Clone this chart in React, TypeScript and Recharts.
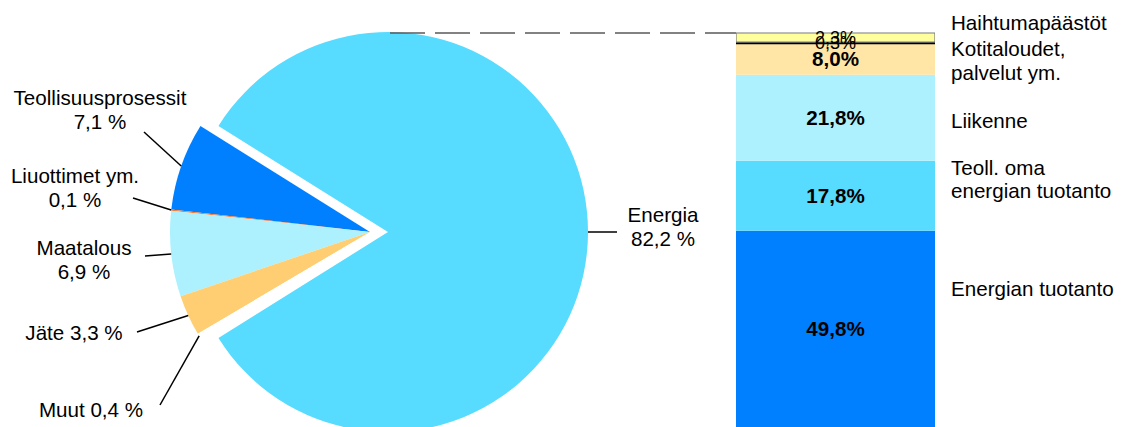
import React from 'react';
import { PieChart, Pie, Cell, BarChart, Bar, XAxis, YAxis, LabelList } from 'recharts';

// ---- Data ----
const sectorNames = ['Teollisuusprosessit', 'Liuottimet ym.', 'Maatalous', 'Jäte', 'Muut', 'Energia'];
const sectorValues = [7.1, 0.1, 6.9, 3.3, 0.4, 82.2];
const sectorColors = ['#0080FF', '#FF7A2A', '#ADF1FF', '#FFCE73', '#FFFFFF', '#57DBFF'];

const energyNames = ['Energian tuotanto', 'Teoll. oma energian tuotanto', 'Liikenne', 'Kotitaloudet, palvelut ym.', 'Muut energia', 'Haihtumapäästöt'];
const energyValues = [49.8, 17.8, 21.8, 8.0, 0.3, 2.3];
const energyColors = ['#0080FF', '#57DBFF', '#ADF1FF', '#FFE6A6', '#000000', '#FFFF9E'];
const energyLabelLines = [
  ['Energian tuotanto'],
  ['Teoll. oma', 'energian tuotanto'],
  ['Liikenne'],
  ['Kotitaloudet,', 'palvelut ym.'],
  [],
  ['Haihtumapäästöt'],
];

// ---- Layout ----
const W = 1125;
const H = 427;
const FONT = '"Liberation Sans", Arial, sans-serif';
const FS = 20.6;
const PIE_CX = 388;
const PIE_CY = 232;
const PIE_R = 200;
const EXPLODE = 18;
const smallTotal = sectorValues.slice(0, 5).reduce((a, b) => a + b, 0);
const START = 180 - (smallTotal / 100) * 180;
const END = START + 360;

const BAR_LEFT = 736;
const BAR_TOP = 33;
const BAR_W = 199;
const BAR_H = 394;
const BAR_PAD = 20;

const pieData = sectorNames.map((name, i) => ({ name, value: sectorValues[i] }));
const barRow: Record<string, any> = { name: 'Energia' };
energyNames.forEach((n, i) => { barRow['s' + i] = energyValues[i]; });
const barData = [barRow];

const fmt = (v: number) => v.toFixed(1).replace('.', ',');

// label placement (text anchors, leader line start)
const pieLabelLayout: Record<string, { x: number; ys: number[]; sx: number; sy: number; oneLine?: boolean }> = {
  'Teollisuusprosessit': { x: 100, ys: [105, 129], sx: 144, sy: 132 },
  'Liuottimet ym.': { x: 75, ys: [183, 207], sx: 133, sy: 198 },
  'Maatalous': { x: 84, ys: [255, 279], sx: 145, sy: 256 },
  'Jäte': { x: 74, ys: [340], sx: 137, sy: 332, oneLine: true },
  'Muut': { x: 91, ys: [417], sx: 160, sy: 405, oneLine: true },
  'Energia': { x: 663, ys: [222, 246], sx: 617, sy: 232 },
};
const energyLabelY = [[296], [175, 198], [128], [56, 80], [], [30]];

const RAD = Math.PI / 180;

const makePieLabel = (show: (name: string) => boolean) => (props: any) => {
  const { cx, cy, midAngle, outerRadius, name, value, index } = props;
  if (!show(name)) return null;
  const lay = pieLabelLayout[name];
  if (!lay) return null;
  const ex = cx + outerRadius * Math.cos(-midAngle * RAD);
  const ey = cy + outerRadius * Math.sin(-midAngle * RAD);
  const lines = lay.oneLine ? [`${name} ${fmt(value)} %`] : [name, `${fmt(value)} %`];
  return (
    <g key={'pl' + index}>
      <line x1={lay.sx} y1={lay.sy} x2={ex} y2={ey} stroke="#000" strokeWidth={1.5} />
      {lines.map((t, k) => (
        <text key={k} x={lay.x} y={lay.ys[k]} textAnchor="middle" fontSize={FS} fontFamily={FONT} fill="#000">
          {t}
        </text>
      ))}
    </g>
  );
};

const makeBarLabel = (i: number) => (props: any) => {
  const { x, y, width, height, value } = props;
  const small = energyValues[i] < 5;
  const cyy = y + height / 2;
  return (
    <text
      x={x + width / 2}
      y={cyy + (small ? 6.5 : 7.2)}
      textAnchor="middle"
      fontSize={small ? 18 : FS}
      fontWeight={small ? 'normal' : 'bold'}
      fontFamily={FONT}
      fill="#000"
    >
      {fmt(value)}%
    </text>
  );
};

export default function App() {
  return (
    <div style={{ position: 'absolute', left: 0, top: 0, width: W, height: H, overflow: 'hidden', background: '#fff', fontFamily: FONT }}>
      <div style={{ position: 'absolute', left: 0, top: 0 }}>
        <PieChart width={W} height={H} margin={{ top: 0, right: 0, bottom: 0, left: 0 }}>
          <Pie
            data={pieData}
            dataKey="value"
            nameKey="name"
            cx={PIE_CX}
            cy={PIE_CY}
            outerRadius={PIE_R}
            startAngle={START}
            endAngle={END}
            stroke="none"
            isAnimationActive={false}
            labelLine={false}
            label={makePieLabel((n) => n === 'Energia')}
          >
            {pieData.map((d, i) => (
              <Cell key={i} fill={d.name === 'Energia' ? sectorColors[i] : 'transparent'} stroke="none" />
            ))}
          </Pie>
          <Pie
            data={pieData}
            dataKey="value"
            nameKey="name"
            cx={PIE_CX - EXPLODE}
            cy={PIE_CY}
            outerRadius={PIE_R}
            startAngle={START}
            endAngle={END}
            stroke="none"
            isAnimationActive={false}
            labelLine={false}
            label={makePieLabel((n) => n !== 'Energia')}
          >
            {pieData.map((d, i) => (
              <Cell key={i} fill={d.name === 'Energia' ? 'transparent' : sectorColors[i]} stroke="none" />
            ))}
          </Pie>
        </PieChart>
      </div>
      <div style={{ position: 'absolute', left: BAR_LEFT, top: BAR_TOP - BAR_PAD }}>
        <BarChart
          width={BAR_W}
          height={BAR_H + BAR_PAD}
          data={barData}
          margin={{ top: BAR_PAD, right: 0, bottom: 0, left: 0 }}
          barCategoryGap={0}
          style={{ overflow: 'visible' }}
        >
          <XAxis dataKey="name" hide />
          <YAxis domain={[0, 100]} hide />
          {energyNames.map((n, i) => (
            <Bar
              key={i}
              dataKey={'s' + i}
              stackId="a"
              fill={energyColors[i]}
              stroke={i === 5 ? '#7a7a7a' : i === 4 ? '#000' : 'none'}
              strokeWidth={i === 5 ? 1.2 : i === 4 ? 2 : 0}
              isAnimationActive={false}
            >
              <LabelList dataKey={'s' + i} content={makeBarLabel(i)} />
            </Bar>
          ))}
        </BarChart>
      </div>
      <svg width={W} height={H} style={{ position: 'absolute', left: 0, top: 0, pointerEvents: 'none' }}>
        <line
          x1={PIE_CX + 2}
          y1={PIE_CY - PIE_R + 1}
          x2={BAR_LEFT}
          y2={BAR_TOP}
          stroke="#5a5a5a"
          strokeWidth={1.5}
          strokeDasharray="35 10"
        />
        {energyLabelLines.map((lines, i) =>
          lines.map((t, k) => (
            <text key={i + '-' + k} x={951} y={energyLabelY[i][k]} fontSize={FS} fontFamily={FONT} fill="#000">
              {t}
            </text>
          ))
        )}
      </svg>
    </div>
  );
}
